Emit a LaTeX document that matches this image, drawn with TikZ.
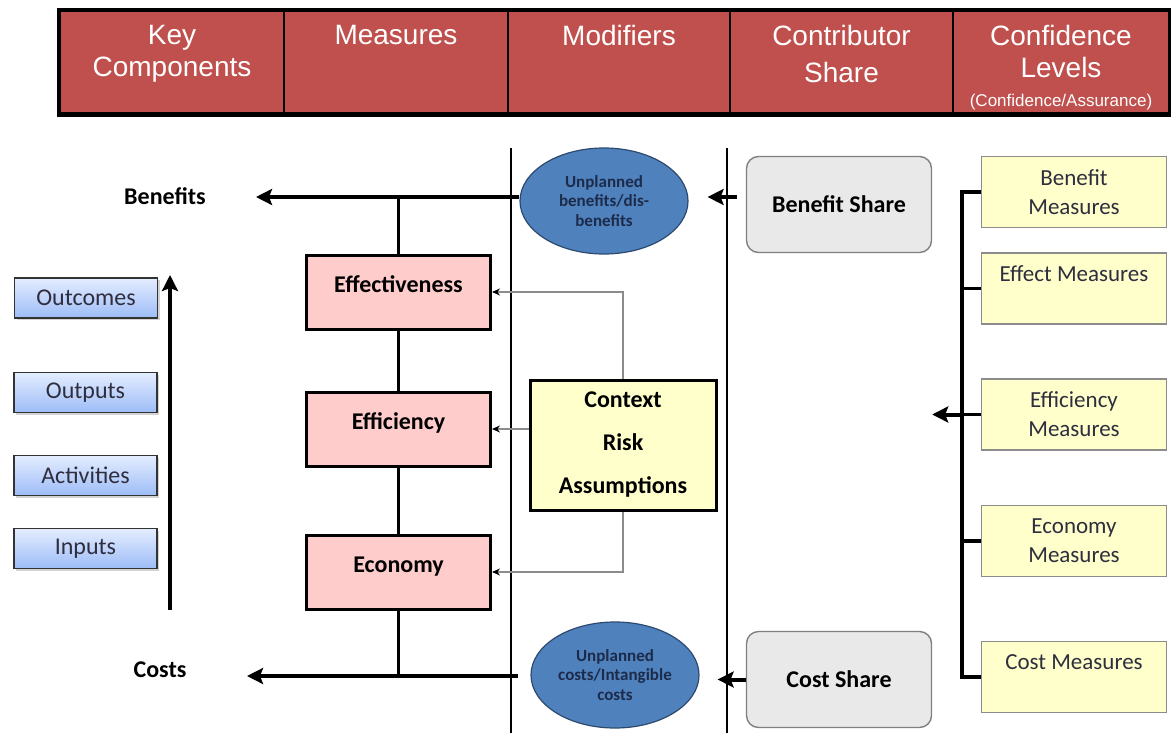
\documentclass[tikz,border=0pt]{standalone}
\usepackage{fontspec}
\setmainfont{Carlito}
\newfontfamily\hdrfont{Liberation Sans}
\usetikzlibrary{arrows.meta,shapes.geometric,shadows}

\definecolor{hdrred}{HTML}{C0504D}
\definecolor{measpink}{HTML}{FFCCCC}
\definecolor{ctxyellow}{HTML}{FFFFCC}
\definecolor{ovalblue}{HTML}{4F81BD}
\definecolor{ovalline}{HTML}{2C4A70}
\definecolor{ovaltext}{HTML}{1C2B4A}
\definecolor{sharegray}{HTML}{E9E9E9}
\definecolor{boxtop}{HTML}{E4EDFF}
\definecolor{boxbot}{HTML}{9DBCF7}
\definecolor{darktext}{HTML}{2E2E3E}

\begin{document}
\begin{tikzpicture}[x=0.5pt,y=-0.5pt]

      \tikzstyle{every node}=[inner sep=0pt]
      \tikzstyle{hdrcell}=[draw=black,line width=1pt,fill=hdrred,minimum height=51pt]
      \tikzstyle{hdrtext}=[anchor=north,align=center,text=white,yshift=-7pt,
                            font=\hdrfont\fontsize{14}{16}\selectfont]
      \tikzstyle{levelbox}=[draw=black!80,line width=0.6pt,top color=boxtop,bottom color=boxbot,
                            minimum width=71.5pt,minimum height=20pt,text=darktext,
                            font=\fontsize{12}{14}\selectfont,
                            drop shadow={shadow xshift=1pt,shadow yshift=-1pt,opacity=0.35}]
      \tikzstyle{measbox}=[draw=black,line width=1.5pt,fill=measpink,minimum width=92pt,
                            minimum height=37pt,text height=8pt,text depth=8pt,
                            font=\bfseries\fontsize{12}{14}\selectfont]
      \tikzstyle{oval}=[ellipse,draw=ovalline,line width=0.6pt,fill=ovalblue,align=center,
                            text=ovaltext,font=\bfseries\fontsize{8.5}{9.75}\selectfont]
      \tikzstyle{sharebox}=[draw=black!50,line width=0.7pt,fill=sharegray,rounded corners=6pt,
                            minimum width=92.5pt,minimum height=48pt,
                            font=\bfseries\fontsize{12}{14}\selectfont]
      \tikzstyle{ctxbox}=[draw=black,line width=1.5pt,fill=ctxyellow,minimum width=93pt,
                            minimum height=65pt,align=center,
                            font=\bfseries\fontsize{12}{21.5}\selectfont]
      \tikzstyle{confbox}=[draw=black!45,line width=0.7pt,fill=ctxyellow,minimum width=92.5pt,
                            minimum height=35.5pt,align=center,text=darktext,
                            font=\fontsize{11.5}{14.5}\selectfont]
      \tikzstyle{toptext}=[text height=8pt,text depth=15.5pt]
      \tikzstyle{bigarrow}=[line width=2pt,-{Stealth[length=8pt,width=8pt,inset=1.5pt]}]
      \tikzstyle{spine}=[line width=1.6pt]
      \tikzstyle{feed}=[black!45,line width=0.6pt,-{Stealth[length=4pt,width=3.5pt,black]}]

      \useasboundingbox (0,0) rectangle (1171,733);

      % header row
      \node (hkey) [hdrcell,minimum width=112pt,label={[hdrtext]north:Key\\Components}] at (172,62.5) {};
      \node (hmeas) [hdrcell,minimum width=112pt,label={[hdrtext]north:Measures}] at (396,62.5) {};
      \node (hmod) [hdrcell,minimum width=111pt,label={[hdrtext]north:Modifiers}] at (619,62.5) {};
      \node (hshare) [hdrcell,minimum width=111.5pt,label={[hdrtext]north:Contributor\\[2.5pt]Share}] at (841.5,62.5) {};
      \node (hconf) [hdrcell,minimum width=108pt,
          label={[hdrtext]north:Confidence\\Levels\\[-1.5pt]{\fontsize{8.5}{10}\selectfont(Confidence/Assurance)}}] at (1061,62.5) {};
      \draw[line width=2pt] (hkey.north west) rectangle (hconf.south east);

      % column separators
      \draw[line width=0.6pt] (511,148) -- (511,733);
      \draw[line width=0.6pt] (727,148) -- (727,733);

      % key components
      \node (outcomes) [levelbox] at (86,298) {Outcomes};
      \node (outputs) [levelbox] at (85.5,392.5) {Outputs};
      \node (activities) [levelbox] at (85.5,475.5) {Activities};
      \node (inputs) [levelbox] at (85.5,548.5) {Inputs};
      \coordinate (upbot) at (170,610);
      \coordinate (uptop) at (170,275);
      \draw[bigarrow] (upbot) -- (uptop);

      % measures
      \node (eff) [measbox] at (398.5,292) {Effectiveness};
      \node (effic) [measbox] at (398.5,429) {Efficiency};
      \node (econ) [measbox] at (398.5,572) {Economy};

      \node (blab) [font=\bfseries\fontsize{12}{14}\selectfont] at (165,196) {Benefits};
      \node (clab) [font=\bfseries\fontsize{12}{14}\selectfont] at (160,670) {Costs};
      \coordinate (btip) at (256,197);
      \coordinate (ctip) at (247,676);
      \coordinate (cend) at (518,676);

      % modifiers
      \node (uben) [oval,minimum width=84pt,minimum height=53pt] at (604,201)
          {Unplanned\\benefits/dis-\\benefits};
      \node (ucost) [oval,minimum width=84pt,minimum height=53pt] at (615,675)
          {Unplanned\\costs/Intangible\\costs};
      \node (ctx) [ctxbox] at (623,445) {Context\\Risk\\Assumptions};

      \draw[bigarrow] (uben.west |- btip) -- (btip);
      \draw[bigarrow] (cend) -- (ctip);
      \draw[spine] (eff.north) -- (eff.north |- btip);
      \draw[spine] (eff.south) -- (effic.north);
      \draw[spine] (effic.south) -- (econ.north);
      \draw[spine] (econ.south) -- (econ.south |- ctip);

      \draw[feed] (ctx.north) |- (eff.east);
      \draw[feed] (ctx.west |- effic.east) -- (effic.east);
      \draw[feed] (ctx.south) |- (econ.east);

      % contributor share
      \node (bshare) [sharebox] at (839,204.5) {Benefit Share};
      \node (cshare) [sharebox] at (839,679.5) {Cost Share};
      \draw[bigarrow,shorten <=4.5pt,shorten >=9.5pt] (bshare.west |- btip) -- (uben.east |- btip);
      \draw[bigarrow,shorten >=9pt] (cshare.west) -- (ucost.east |- cshare.west);

      % confidence levels
      \node (bmeas) [confbox] at (1074,192) {Benefit\\Measures};
      \node (emeas) [confbox,toptext] at (1074,288.5) {Effect Measures};
      \node (fmeas) [confbox] at (1074,414.5) {Efficiency\\Measures};
      \node (nmeas) [confbox] at (1074,541) {Economy\\Measures};
      \node (cmeas) [confbox,toptext] at (1074,677) {Cost Measures};
      \coordinate (rx) at (962,0);

      \draw[line width=2pt] (bmeas.west) -- (bmeas.west -| rx) -- (cmeas.west -| rx) -- (cmeas.west);
      \draw[spine] (emeas.west) -- (emeas.west -| rx);
      \draw[spine] (nmeas.west) -- (nmeas.west -| rx);
      \draw[spine] (fmeas.west) -- (fmeas.west -| rx);
      \draw[bigarrow] (fmeas.west -| rx) -- (fmeas.west -| bshare.east);

\end{tikzpicture}
\end{document}
